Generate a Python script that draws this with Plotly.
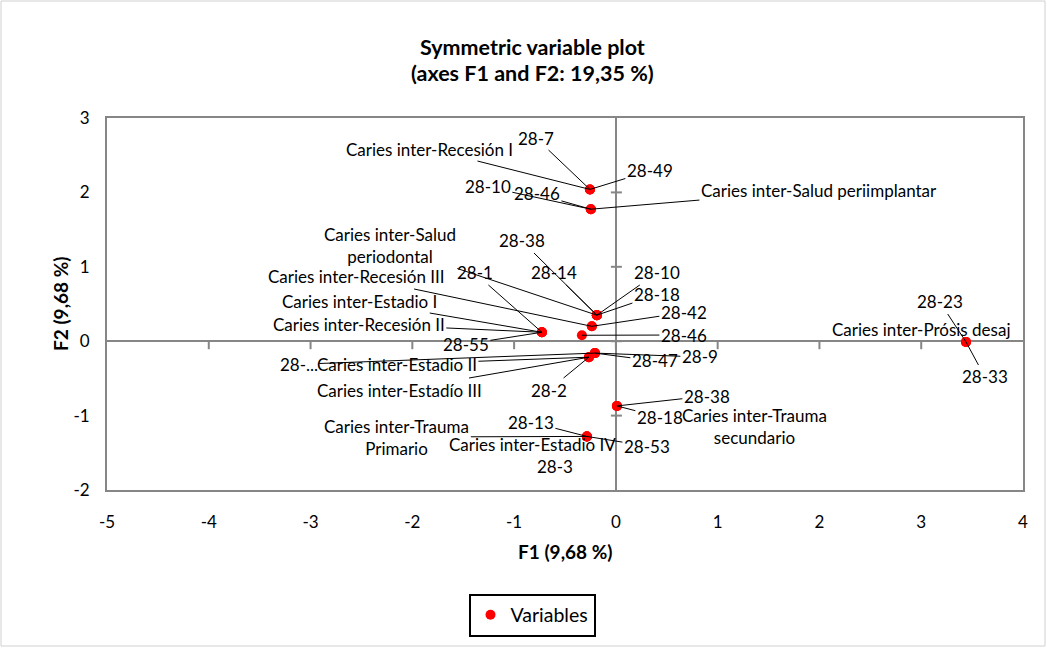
import plotly.graph_objects as go

# Variables (one entry per label) and their coordinates on F1 / F2
variables = [
    "Caries inter-Recesión I", "28-7", "28-49",
    "28-10", "28-46", "Caries inter-Salud periimplantar",
    "Caries inter-Salud<br>periodontal", "28-38", "28-14", "28-10", "28-18",
    "28-42", "Caries inter-Recesión III",
    "28-1", "Caries inter-Estadio I", "Caries inter-Recesión II",
    "28-46", "28-55",
    "28-...", "Caries inter-Estadio II", "28-47", "28-9",
    "Caries inter-Estadío III", "28-2",
    "28-38", "28-18", "Caries inter-Trauma<br>secundario",
    "28-13", "Caries inter-Trauma<br>Primario", "Caries inter-Estadio IV", "28-53", "28-3",
    "28-23", "Caries inter-Prósis desaj", "28-33",
]
f1 = [
    -0.255, -0.255, -0.255,
    -0.246, -0.246, -0.246,
    -0.187, -0.187, -0.187, -0.187, -0.187,
    -0.236, -0.236,
    -0.727, -0.727, -0.727,
    -0.334, -0.727,
    -0.206, -0.265, -0.206, -0.206,
    -0.265, -0.265,
    0.010, 0.010, 0.010,
    -0.285, -0.285, -0.285, -0.285, -0.285,
    3.440, 3.440, 3.440,
]
f2 = [
    2.040, 2.040, 2.040,
    1.774, 1.774, 1.774,
    0.350, 0.350, 0.350, 0.350, 0.350,
    0.200, 0.200,
    0.120, 0.120, 0.120,
    0.080, 0.120,
    -0.160, -0.215, -0.160, -0.160,
    -0.215, -0.215,
    -0.870, -0.870, -0.870,
    -1.280, -1.280, -1.280, -1.280, -1.280,
    -0.010, -0.010, -0.010,
]

# Label placement (axis units) and whether a leader line is drawn
label_x = [
    -1.827, -0.786, 0.334,
    -1.258, -0.776, 1.995,
    -2.221, -0.924, -0.609, 0.403, 0.403,
    0.668, -2.545,
    -1.386, -2.516, -2.526,
    0.668, -1.474,
    -3.115, -2.152, 0.383, 0.825,
    -2.122, -0.658,
    0.894, 0.432, 1.366,
    -0.835, -2.152, -0.816, 0.305, -0.599,
    3.183, 2.997, 3.626,
]
label_y = [
    2.583, 2.731, 2.288,
    2.073, 1.979, 2.032,
    1.280, 1.347, 0.917, 0.917, 0.625,
    0.385, 0.863,
    0.917, 0.540, 0.231,
    0.083, -0.040,
    -0.310, -0.310, -0.266, -0.212,
    -0.656, -0.656,
    -0.737, -1.019, -1.140,
    -1.086, -1.288, -1.395, -1.409, -1.690,
    0.527, 0.164, -0.481,
]
leader = [True] * len(variables)
for i in (26, 31, 33):
    leader[i] = False

x_ticks = [-5, -4, -3, -2, -1, 0, 1, 2, 3, 4]
y_ticks = [-2, -1, 0, 1, 2, 3]

FONT = "Lato"
GRID = "#868686"
LABEL_SIZE = 17
W, H = 1047, 648
ML, MR, MT, MB = 107, 24, 118, 158
PW, PH = W - ML - MR, H - MT - MB

fig = go.Figure()
fig.add_trace(go.Scatter(
    x=f1, y=f2, mode="markers", name="Variables",
    marker=dict(color="#FF0000", size=10),
    hoverinfo="text", text=variables,
))

annotations = []
for name, px_, py_, lx, ly, show in zip(variables, f1, f2, label_x, label_y, leader):
    if show:
        annotations.append(dict(
            x=px_, y=py_, xref="x", yref="y",
            ax=lx, ay=ly, axref="x", ayref="y",
            text=name, showarrow=True,
            arrowhead=0, arrowwidth=1, arrowcolor="black", standoff=0,
            font=dict(family=FONT, size=LABEL_SIZE, color="black"),
            align="center",
        ))
    else:
        annotations.append(dict(
            x=lx, y=ly, xref="x", yref="y", text=name, showarrow=False,
            font=dict(family=FONT, size=LABEL_SIZE, color="black"), align="center",
        ))

# Title lines
annotations.append(dict(text="<b>Symmetric variable plot</b>", xref="paper", yref="paper",
                        x=(532 - ML) / PW, y=1, yshift=71, showarrow=False,
                        xanchor="center", yanchor="middle",
                        font=dict(family=FONT, size=21.5, color="black")))
annotations.append(dict(text="<b>(axes F1 and F2: 19,35 %)</b>", xref="paper", yref="paper",
                        x=(532 - ML) / PW, y=1, yshift=45, showarrow=False,
                        xanchor="center", yanchor="middle",
                        font=dict(family=FONT, size=21.5, color="black")))
# Axis titles
annotations.append(dict(text="<b>F1 (9,68 %)</b>", xref="paper", yref="paper",
                        x=0.5, y=0, yshift=-61, showarrow=False,
                        xanchor="center", yanchor="middle",
                        font=dict(family=FONT, size=19, color="black")))
annotations.append(dict(text="<b>F2 (9,68 %)</b>", xref="paper", yref="paper",
                        x=0, xshift=-47, y=0.5, showarrow=False, textangle=-90,
                        xanchor="center", yanchor="middle",
                        font=dict(family=FONT, size=19, color="black")))

shapes = []
# Tick marks along the zero lines
for v in x_ticks[1:-1]:
    shapes.append(dict(type="line", xref="x", yref="y", ysizemode="pixel", yanchor=0,
                       x0=v, x1=v, y0=0, y1=-8, line=dict(color=GRID, width=2)))
for v in y_ticks[1:-1]:
    shapes.append(dict(type="line", xref="x", yref="y", xsizemode="pixel", xanchor=0,
                       x0=-5, x1=6, y0=v, y1=v, line=dict(color=GRID, width=2)))
# Outer chart border
shapes.append(dict(type="rect", xref="paper", yref="paper",
                   x0=-(ML - 1) / PW, x1=1 + (MR - 2) / PW,
                   y0=-(MB - 2) / PH, y1=1 + (MT - 1) / PH,
                   line=dict(color="#d0d0d0", width=1)))

axis_common = dict(showgrid=False, zeroline=True, zerolinecolor=GRID, zerolinewidth=2,
                   showline=True, linecolor=GRID, linewidth=2, mirror=True, ticks="",
                   tickfont=dict(family=FONT, size=17, color="black"))

fig.update_layout(
    width=W, height=H,
    margin=dict(l=ML, r=MR, t=MT, b=MB),
    paper_bgcolor="white", plot_bgcolor="white",
    xaxis=dict(range=[-5, 4], tickvals=x_ticks, ticktext=[str(v) for v in x_ticks],
               ticklabelstandoff=16, **axis_common),
    yaxis=dict(range=[-2, 3], tickvals=y_ticks, ticktext=[str(v) for v in y_ticks],
               ticklabelstandoff=12, **axis_common),
    showlegend=True,
    legend=dict(x=(532 - ML) / PW, y=-125 / PH, xanchor="center", yanchor="middle",
                orientation="h", bordercolor="black", borderwidth=2,
                font=dict(family=FONT, size=19.5, color="black"), bgcolor="white"),
    annotations=annotations,
    shapes=shapes,
)

fig.write_html("out.html")
